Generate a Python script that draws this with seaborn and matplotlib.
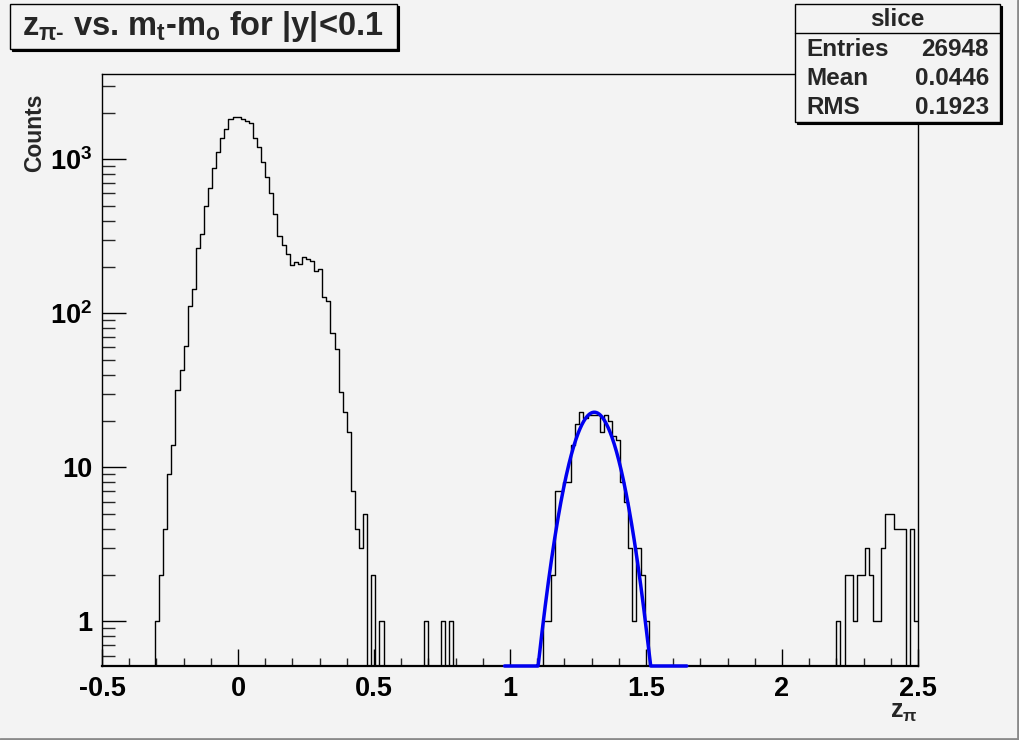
import numpy as np
import pandas as pd
import matplotlib
matplotlib.use("Agg")
import matplotlib.pyplot as plt
import seaborn as sns
from matplotlib.patches import Rectangle
from matplotlib.lines import Line2D
from matplotlib.ticker import (FixedLocator, MultipleLocator, LogLocator,
                               NullFormatter, FixedFormatter, FuncFormatter)

# ---------------- data ----------------
x_min, x_max, n_bins = -0.5, 2.5, 200

peak_first_bin = 13
peak_counts = [1, 2, 4, 9, 14, 32, 43, 61, 112, 143, 264, 326, 500, 654, 874,
               1120, 1380, 1566, 1820, 1890, 1890, 1827, 1775, 1714, 1368, 1207,
               964, 771, 601, 443, 318, 277, 242, 206, 214, 209, 233, 226, 220,
               189, 193, 128, 120, 74, 59, 31, 23, 17, 7, 4, 3, 5, 0, 2, 0, 1]

sparse_bins = [79, 83, 85]
sparse_counts = [1, 1, 1]

gauss_first_bin = 108
gauss_counts = [1, 1, 2, 7, 7, 8, 8, 14, 19, 23, 21, 22, 22, 22, 17, 22, 20,
                16, 15, 8, 6, 3, 1, 3, 2, 1]

tail_first_bin = 180
tail_counts = [1, 0, 2, 2, 1, 2, 2, 3, 2, 1, 1, 3, 5, 5, 4, 4, 4, 0, 4, 1]

fit_const, fit_mean, fit_sigma = 22.8, 1.31, 0.075
fit_range = (0.98, 1.65)

y_range = (0.513, 3580)
y_major = [1, 10, 100, 1000]
y_major_labels = ["1", "10", "$10^{2}$", "$10^{3}$"]

title_text = r"$z_{\pi\text{-}}$ vs. $m_{t}$-$m_{o}$ for |y|<0.1"
stats_title = "slice"
stats_names = ["Entries", "Mean", "RMS"]
stats_values = ["26948", "0.0446", "0.1923"]
x_title = r"$z_{\pi}$"
y_title = "Counts"

# ---------------- assemble histogram ----------------
edges = np.linspace(x_min, x_max, n_bins + 1)
centers = 0.5 * (edges[:-1] + edges[1:])
counts = np.zeros(n_bins)
counts[peak_first_bin:peak_first_bin + len(peak_counts)] = peak_counts
counts[sparse_bins] = sparse_counts
counts[gauss_first_bin:gauss_first_bin + len(gauss_counts)] = gauss_counts
counts[tail_first_bin:tail_first_bin + len(tail_counts)] = tail_counts
df = pd.DataFrame({"z": centers, "n": counts})

fx = np.linspace(fit_range[0], fit_range[1], 400)
fy = fit_const * np.exp(-0.5 * ((fx - fit_mean) / fit_sigma) ** 2)
fy = np.maximum(fy, y_range[0])
fit_df = pd.DataFrame({"z": fx, "f": fy})

# ---------------- style ----------------
bg = "#f3f3f3"
sns.set_theme(style="ticks")
plt.rcParams["font.family"] = ["Liberation Sans", "DejaVu Sans"]
plt.rcParams["font.weight"] = "bold"
plt.rcParams["mathtext.fontset"] = "custom"
plt.rcParams["mathtext.rm"] = "Liberation Sans:bold"
plt.rcParams["mathtext.it"] = "Liberation Sans:bold"
plt.rcParams["mathtext.bf"] = "Liberation Sans:bold"
plt.rcParams["mathtext.sf"] = "Liberation Sans:bold"
plt.rcParams["axes.unicode_minus"] = False

W, H = 1020, 740
fig = plt.figure(figsize=(W / 100, H / 100), dpi=100, facecolor=bg)
ax = fig.add_axes([0.1, 0.1, 0.8, 0.8])
ax.set_facecolor(bg)

sns.histplot(data=df, x="z", weights="n", bins=n_bins, binrange=(x_min, x_max),
             element="step", fill=False, color="black", linewidth=1.0, ax=ax)
sns.lineplot(data=fit_df, x="z", y="f", color="#0000f0", linewidth=2.5,
             sort=False, estimator=None, ax=ax, clip_on=False, zorder=5)

ax.set_yscale("log")
ax.set_xlim(x_min, x_max)
ax.set_ylim(*y_range)
ax.set_xlabel("")
ax.set_ylabel("")

ax.xaxis.set_major_locator(MultipleLocator(0.5))
ax.xaxis.set_minor_locator(MultipleLocator(0.1))
ax.xaxis.set_major_formatter(FuncFormatter(lambda v, p: f"{v:g}"))
ax.yaxis.set_major_locator(FixedLocator(y_major))
ax.yaxis.set_major_formatter(FixedFormatter(y_major_labels))
ax.yaxis.set_minor_locator(LogLocator(base=10, subs=np.arange(2, 10), numticks=30))
ax.yaxis.set_minor_formatter(NullFormatter())

ax.tick_params(axis="x", which="major", direction="in", length=12.5, width=1,
               pad=7, labelsize=19.5, colors="black")
ax.tick_params(axis="x", which="minor", direction="in", length=6, width=1)
ax.tick_params(axis="y", which="major", direction="in", length=17.5, width=1,
               pad=7, labelsize=19.5, colors="black")
ax.tick_params(axis="y", which="minor", direction="in", length=9, width=1)
ax.tick_params(top=False, right=False, which="both")
for s in ax.spines.values():
    s.set_color("black")
    s.set_linewidth(1.0)
ax.spines["bottom"].set_linewidth(1.6)

# ---------------- annotations ----------------
def fx_(px):
    return px / W

def fy_(py):
    return 1 - py / H

def pave(x0, y0, x1, y1):
    fig.add_artist(Rectangle((fx_(x0 + 2), fy_(y1 + 2)), fx_(x1 - x0), (y1 - y0) / H,
                             transform=fig.transFigure, fc="black", ec="black",
                             lw=0.8, zorder=10))
    fig.add_artist(Rectangle((fx_(x0), fy_(y1)), fx_(x1 - x0), (y1 - y0) / H,
                             transform=fig.transFigure, fc=bg, ec="black",
                             lw=1.0, zorder=11))

# title pave
pave(10, 4, 397, 49)
fig.text(fx_(203), fy_(26), title_text, ha="center", va="center",
         fontsize=23.5, weight="bold", zorder=12)

# stats pave
pave(795, 4, 1000, 122)
fig.add_artist(Line2D([fx_(795), fx_(1000)], [fy_(33), fy_(33)],
                      transform=fig.transFigure, color="black", lw=1.0, zorder=12))
fig.text(fx_(897), fy_(19), stats_title, ha="center", va="center",
         fontsize=17.5, weight="bold", zorder=12)
for i, (nm, val) in enumerate(zip(stats_names, stats_values)):
    yy = 49 + i * 29.5
    fig.text(fx_(806), fy_(yy), nm, ha="left", va="center", fontsize=17.5,
             weight="bold", zorder=12)
    fig.text(fx_(989), fy_(yy), val, ha="right", va="center", fontsize=17.5,
             weight="bold", zorder=12)

# axis titles
fig.text(fx_(35), fy_(93), y_title, rotation=90, ha="center", va="top",
         fontsize=16.5, weight="bold")
fig.text(fx_(917), fy_(712), x_title, ha="right", va="center",
         fontsize=18, weight="bold")

# canvas bevel
fig.add_artist(Line2D([fx_(1018.5), fx_(1018.5)], [0, 1], transform=fig.transFigure,
                      color="#8a8a8a", lw=2))
fig.add_artist(Line2D([0, 1], [fy_(738.5), fy_(738.5)], transform=fig.transFigure,
                      color="#8a8a8a", lw=2))

fig.savefig("out.png", dpi=100, facecolor=bg)
